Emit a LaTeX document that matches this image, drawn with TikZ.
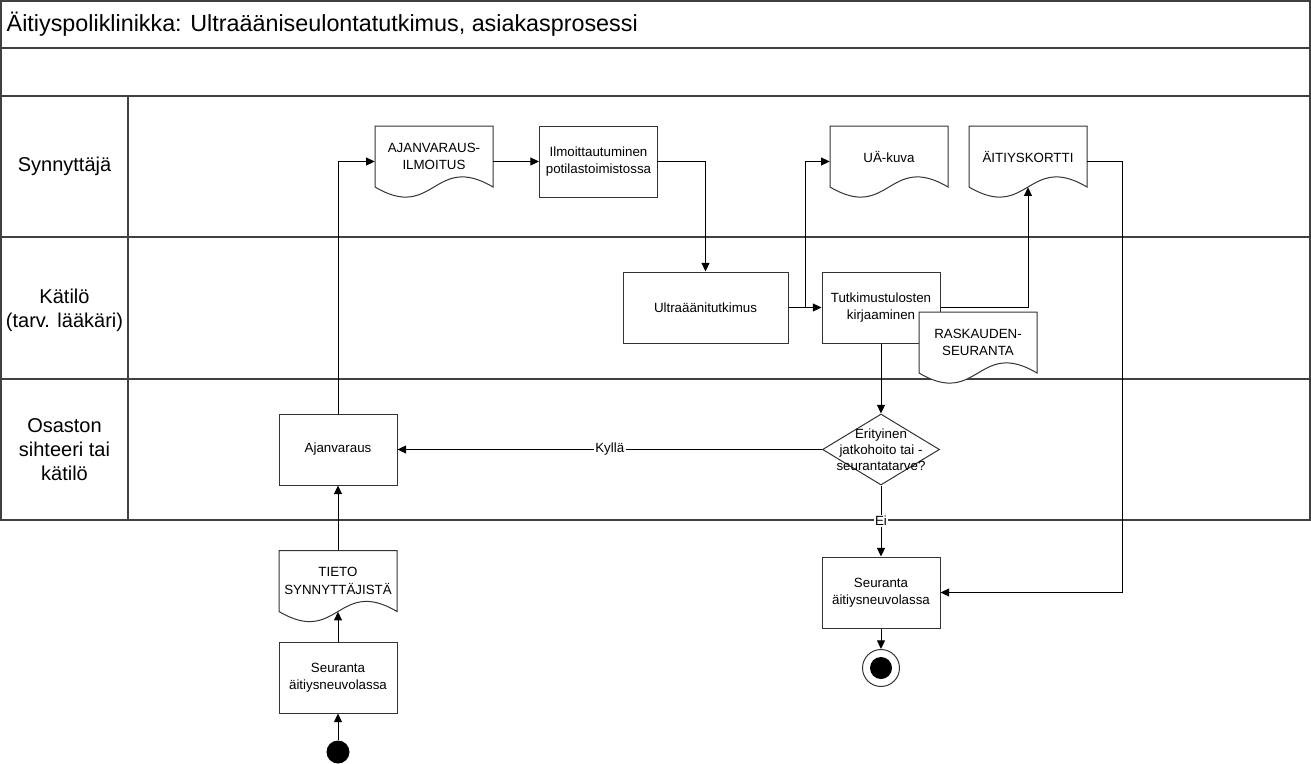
\documentclass[tikz,border=0pt]{standalone}
\usepackage{fontspec}
\setmainfont{Liberation Sans}
\usetikzlibrary{shapes.geometric, arrows.meta, calc, positioning}

% asiakirja: nimi, keskipiste, teksti
\newcommand{\asiakirja}[3]{%
  \draw[muoto] ([shift={(-59,-30.5)}]#2) -- ([shift={(59,-30.5)}]#2) -- ([shift={(59,30.5)}]#2)
    .. controls +(-59,-35) and +(59,35) .. ([shift={(-59,30.5)}]#2) -- cycle;
  \node[doc] (#1) at (#2) {#3};}

\begin{document}
\begin{tikzpicture}[x=0.75pt, y=-0.75pt,
    font=\fontsize{10}{13}\selectfont,
    kehys/.style={draw=black!75, line width=1.1pt},
    muoto/.style={draw=black!80, line width=0.75pt, fill=white},
    laatikko/.style={muoto, rectangle, minimum width=88.5pt, minimum height=53.25pt, align=center, inner sep=2pt},
    doc/.style={rectangle, minimum width=88.5pt, minimum height=45.75pt, align=center, inner sep=2pt},
    paatos/.style={muoto, diamond, minimum width=87.75pt, minimum height=53.25pt, inner sep=0pt},
    kaista/.style={align=center, font=\fontsize{15}{18}\selectfont},
    merkki/.style={fill=white, inner sep=1pt},
    nuoli/.style={line width=0.75pt, -{Triangle[length=6.5pt, width=6pt]}}]
  \useasboundingbox (0,0) rectangle (1311,764);

  % kaistat
  \draw[kehys] (1,1) rectangle (1310,520);
  \draw[kehys] (1,48) -- (1310,48);
  \draw[kehys] (1,96) -- (1310,96);
  \draw[kehys] (1,237) -- (1310,237);
  \draw[kehys] (1,379) -- (1310,379);
  \draw[kehys] (128,96) -- (128,520);

  \node[anchor=west, font=\fontsize{17.5}{20}\selectfont] (otsikko) at (2,24) {Äitiyspoliklinikka: Ultraääniseulontatutkimus, asiakasprosessi};
  \node[kaista] (synnyttaja) at (64.5,166.5) {Synnyttäjä};
  \node[kaista] (katilo) at (64.5,310) {Kätilö\\(tarv. lääkäri)};
  \node[kaista] (sihteeri) at (64.5,449.5) {Osaston\\sihteeri tai\\kätilö};

  % toiminnot
  \node[laatikko] (ajanvaraus) at (338,449.5) {Ajanvaraus};
  \asiakirja{ilmoitus}{434,156.5}{AJANVARAUS-\\ILMOITUS}
  \node[laatikko] (ilmoittautuminen) at (598.5,161.5) {Ilmoittautuminen\\potilastoimistossa};
  \node[laatikko, minimum width=123.75pt] (ultraaani) at (705.5,307.5) {Ultraäänitutkimus};
  \node[laatikko] (kirjaaminen) at (881,307.5) {Tutkimustulosten\\kirjaaminen};
  \asiakirja{uakuva}{889,156.5}{UÄ-kuva}
  \asiakirja{kortti}{1028,156.5}{ÄITIYSKORTTI}
  \asiakirja{raskaus}{978,342.5}{RASKAUDEN-\\SEURANTA}
  \node[paatos] (paatos) at (881,449.5) {};
  \node[align=center, font=\fontsize{10}{12}\selectfont] (paatosteksti) at (paatos) {Erityinen\\jatkohoito tai -\\seurantatarve?};
  \asiakirja{tieto}{338,581}{TIETO\\SYNNYTTÄJISTÄ}
  \node[laatikko] (seuranta1) at (338,677.5) {Seuranta\\äitiysneuvolassa};
  \node[laatikko] (seuranta2) at (881,592.5) {Seuranta\\äitiysneuvolassa};
  \node[circle, fill=black, minimum size=17.25pt, inner sep=0pt] (alku) at (338,752) {};
  \node[circle, draw=black!80, line width=0.75pt, minimum size=27.75pt, inner sep=0pt,
        path picture={\fill (path picture bounding box.center) circle (8.25pt);}] (loppu) at (881,668) {};

  % nuolet
  \draw[nuoli] (alku) -- (seuranta1);
  \draw[nuoli] (seuranta1) -- (tieto.south);
  \draw[nuoli] (tieto) -- (ajanvaraus);
  \draw[nuoli] (ajanvaraus.north) |- ([yshift=-3.75pt]ilmoitus.west);
  \draw[nuoli] ([yshift=-3.75pt]ilmoitus.east) -- (ilmoittautuminen.west);
  \draw[nuoli] (ilmoittautuminen.east) -| (ultraaani.north);
  \draw[nuoli] (ultraaani.east) -- (kirjaaminen.west) coordinate[pos=0.5] (haara);
  \draw[nuoli] (haara) |- ([yshift=-3.75pt]uakuva.west);
  \draw[nuoli] (kirjaaminen.east) -| (kortti.south);
  \draw[nuoli] (kirjaaminen) -- (paatos);
  \draw[nuoli] (paatos.west) -- (ajanvaraus.east) node[merkki, midway] (kylla) {Kyllä};
  \draw[nuoli] (paatos.south) -- (seuranta2.north) node[merkki, midway] (ei) {Ei};
  \draw[nuoli] ([yshift=-3.75pt]kortti.east) -- ++(35,0) |- (seuranta2.east);
  \draw[nuoli] (seuranta2) -- (loppu);
\end{tikzpicture}
\end{document}
